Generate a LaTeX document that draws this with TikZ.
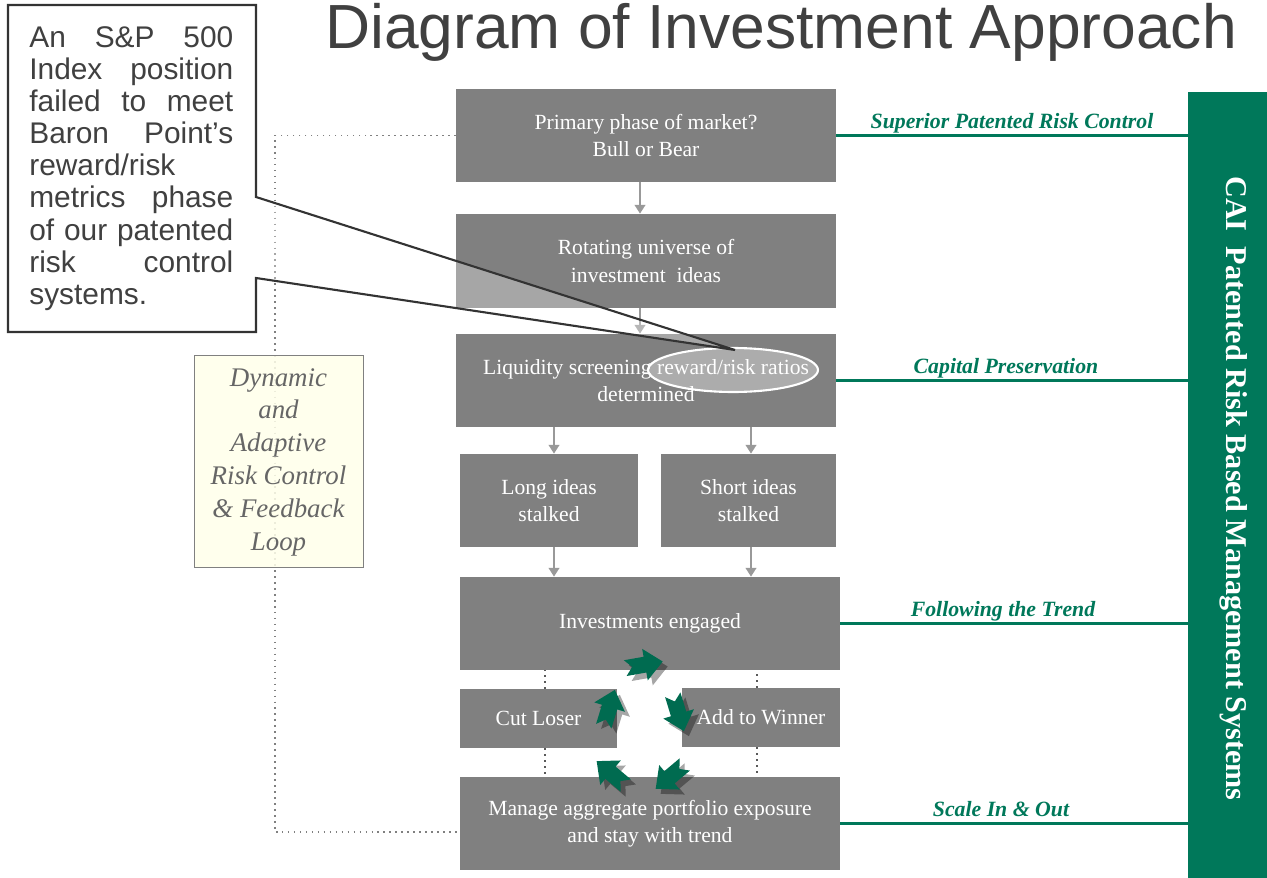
\documentclass[tikz,border=0pt]{standalone}
\usepackage{fontspec}
\setmainfont{Liberation Serif}
\newfontfamily\arialf{Liberation Sans}
\usetikzlibrary{arrows.meta,shapes.geometric}
\definecolor{boxgray}{HTML}{808080}
\definecolor{flowgray}{HTML}{999999}
\definecolor{caigreen}{HTML}{00785A}
\definecolor{cycgreen}{HTML}{006B50}
\definecolor{creamy}{HTML}{FFFFEA}
\definecolor{titlegray}{HTML}{404040}

\tikzset{
  stage/.style={fill=boxgray, text=white, align=center, inner sep=0pt,
    font=\fontsize{12.3}{15.4}\selectfont},
  flow/.style={draw=flowgray, line width=1.2pt, -{Triangle[width=6pt,length=5pt]}},
  gap/.style={draw=black!65, line width=0.9pt, dash pattern=on 0.9pt off 2.5pt},
  loopline/.style={draw=black!50, line width=0.9pt, dash pattern=on 0.9pt off 2.5pt},
  gline/.style={draw=caigreen, line width=1.2pt},
  glabel/.style={text=caigreen, font=\fontsize{12.4}{14}\selectfont\bfseries\itshape,
    inner sep=0pt, anchor=base, yshift=4.2pt},
}

% one green arrow of the cut/add cycle, with its shadow
\newcommand{\cyclearrow}[3]{%
  \fill[black, opacity=.35, shift={(#1+5,#2+5)}, rotate=#3]
    (-18,8) -- (2,8) -- (2,16) -- (20,0) -- (2,-16) -- (2,-8) -- (-18,-8) -- (-11,0) -- cycle;
  \fill[cycgreen, shift={(#1,#2)}, rotate=#3]
    (-18,8) -- (2,8) -- (2,16) -- (20,0) -- (2,-16) -- (2,-8) -- (-18,-8) -- (-11,0) -- cycle;
}

\begin{document}
\begin{tikzpicture}[x=0.02cm, y=-0.02cm]
  \useasboundingbox (0,0) rectangle (1267,878);

  \node[font=\arialf\fontsize{35.5}{40}\selectfont, text=titlegray, anchor=base] (title) at (781,49) {Diagram of Investment Approach};

  % flow of stages
  \node[stage, minimum width=7.6cm, minimum height=1.86cm] (phase) at (646,135.5) {Primary phase of market?\\Bull or Bear};
  \node[stage, minimum width=7.6cm, minimum height=1.88cm] (universe) at (646,261) {Rotating universe of\\investment~ ideas};
  \node[stage, minimum width=7.6cm, minimum height=1.86cm] (screen) at (646,380.5) {Liquidity screening reward/risk ratios\\determined};
  \node[stage, minimum width=3.56cm, minimum height=1.86cm] (longidea) at (549,500.5) {Long ideas\\stalked};
  \node[stage, minimum width=3.5cm, minimum height=1.86cm] (shortidea) at (748.5,500.5) {Short ideas\\stalked};
  \node[stage, minimum width=7.6cm, minimum height=1.86cm] (engaged) at (650,623.5) {Investments engaged};
  \node[stage, minimum width=3.14cm, minimum height=1.18cm] (cutloser) at (538.5,718.5) {Cut Loser};
  \node[stage, minimum width=3.16cm, minimum height=1.18cm] (winner) at (761,717.5) {Add to Winner};
  \node[stage, minimum width=7.6cm, minimum height=1.86cm] (manage) at (650,823.5) {Manage aggregate portfolio exposure\\and stay with trend};

  \draw[flow] ([xshift=-0.12cm]phase.south) -- ([xshift=-0.12cm]universe.north);
  \draw[flow] ([xshift=-0.12cm]universe.south) -- ([xshift=-0.12cm]screen.north);
  \draw[flow] ([xshift=0.1cm]longidea.north |- screen.south) -- ([xshift=0.1cm]longidea.north);
  \draw[flow] ([xshift=0.05cm]shortidea.north |- screen.south) -- ([xshift=0.05cm]shortidea.north);
  \draw[flow] ([xshift=0.1cm]longidea.south) -- ([xshift=0.1cm]longidea.south |- engaged.north);
  \draw[flow] ([xshift=0.05cm]shortidea.south) -- ([xshift=0.05cm]shortidea.south |- engaged.north);

  \draw[gap] ([xshift=0.13cm]cutloser.north) -- ([xshift=0.13cm]cutloser.north |- engaged.south);
  \draw[gap] ([xshift=0.13cm]cutloser.south) -- ([xshift=0.13cm]cutloser.south |- manage.north);
  \draw[gap] ([xshift=-0.08cm]winner.north) -- ([xshift=-0.08cm]winner.north |- engaged.south);
  \draw[gap] ([xshift=-0.08cm]winner.south) -- ([xshift=-0.08cm]winner.south |- manage.north);

  \cyclearrow{643}{665}{10}
  \cyclearrow{678}{712}{-73}
  \cyclearrow{671}{776}{-140}
  \cyclearrow{612}{774}{140}
  \cyclearrow{609}{709}{73}

  % feedback loop
  \coordinate (loopx) at (275,0);
  \draw[loopline] (phase.west) -- (phase.west -| loopx) -- ([yshift=-0.17cm]manage.west -| loopx) -- ([yshift=-0.17cm]manage.west);
  \node[draw=black!50, fill=creamy, fill opacity=.85, text opacity=1, text=black!60, align=center,
    minimum width=3.38cm, minimum height=4.24cm, inner sep=0pt,
    font=\fontsize{15.3}{18.7}\selectfont\itshape] (feedback) at (278.5,461)
    {\rule{0pt}{0.4cm}Dynamic\\and\\Adaptive\\Risk Control\\\& Feedback\\Loop};

  % side bar
  \node[fill=caigreen, minimum width=1.58cm, minimum height=15.72cm, inner sep=0pt] (bar) at (1227.5,485) {};
  \node[rotate=-90, text=white, font=\fontsize{17.2}{20}\selectfont\bfseries] (bartext) at (1234,488.5) {CAI\ \ Patented Risk Based Management Systems};

  \draw[gline] (phase.east) -- (phase.east -| bar.west) node[midway, glabel] {Superior Patented Risk Control};
  \draw[gline] (screen.east) -- (screen.east -| bar.west) node[midway, glabel, xshift=-0.12cm] {Capital Preservation};
  \draw[gline] (engaged.east) -- (engaged.east -| bar.west) node[midway, glabel, xshift=-0.22cm] {Following the Trend};
  \draw[gline] (manage.east) -- (manage.east -| bar.west) node[midway, glabel, xshift=-0.26cm] {Scale In \& Out};

  % callout
  \node[ellipse, draw=white, line width=1.2pt, fill=white, fill opacity=.35,
    minimum width=3.4cm, minimum height=0.88cm, inner sep=0pt] (ratios) at (733,370) {};
  \coordinate (tip) at (735,350);
  \fill[white] (8,5) rectangle (256,332);
  \fill[white, fill opacity=.3] (256,197) -- (tip) -- (256,278) -- cycle;
  \draw[black!80, line width=1.2pt] (8,5) -- (256,5) -- (256,197) -- (tip) -- (256,278) -- (256,332) -- (8,332) -- cycle;
  \node[anchor=north west, inner sep=0pt, text width=4.08cm, align=left, text=titlegray,
    font=\arialf\fontsize{17}{18.3}\selectfont] (note) at (29,26)
    {An\hfill S\&P\hfill 500\\
     Index\hfill position\\
     failed\hfill to\hfill meet\\
     Baron\hfill Point’s\\
     reward/risk\\
     metrics\hfill phase\\
     of\hfill our\hfill patented\\
     risk\hfill control\\
     systems.};
\end{tikzpicture}
\end{document}
